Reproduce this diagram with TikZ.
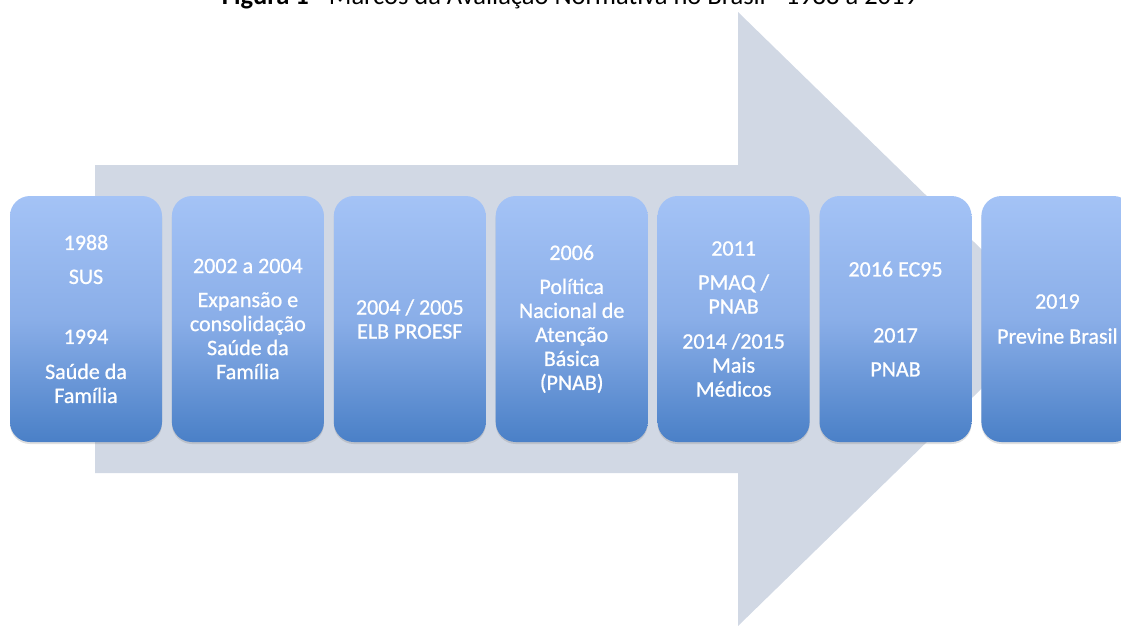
\documentclass[tikz,border=0pt]{standalone}
\usepackage{fontspec}
\setmainfont{Carlito}
\newfontfamily\boxfont{Carlito}[FakeBold=0.8]
\usetikzlibrary{positioning,shadows}

\definecolor{arrowgray}{RGB}{209,216,228}
\definecolor{boxtop}{RGB}{164,195,246}
\definecolor{boxmid}{RGB}{138,174,232}
\definecolor{boxbot}{RGB}{74,128,199}

\begin{document}
\begin{tikzpicture}[x=1pt,y=-1pt,node distance=9.5pt,
  year node/.style={rectangle,rounded corners=20pt,minimum width=152pt,
    minimum height=246pt,inner sep=2pt,align=center,text=white,
    top color=boxtop,bottom color=boxbot,middle color=boxmid,
    drop shadow={opacity=0.25,shadow xshift=0pt,shadow yshift=-2pt},
    font=\boxfont\fontsize{22}{24}\selectfont},
  title node/.style={anchor=base,inner sep=0pt,font=\fontsize{26.5}{30}\selectfont}]

  \clip (0,0) rectangle (1121,625);

  % big background arrow
  \fill[arrowgray] (95,165) -- (738,165) -- (738,12) -- (1053,319)
    -- (738,626) -- (738,473) -- (95,473) -- cycle;

  \node[title node] (title) at (570,4)
    {\textbf{Figura 1} - Marcos da Avaliação Normativa no Brasil - 1988 a 2019};

  \node[year node] (1) at (86,319)
    {1988\\[10pt] SUS\\[36pt] 1994\\[11pt] Saúde da\\ Família};
  \node[year node] (2) [right=of 1]
    {2002 a 2004\\[10pt] Expansão e\\ consolidação\\ Saúde da\\ Família};
  \node[year node] (3) [right=of 2]
    {2004 / 2005\\ ELB PROESF};
  \node[year node] (4) [right=of 3]
    {2006\\[10pt] Política\\ Nacional de\\ Atenção\\ Básica\\ (PNAB)};
  \node[year node] (5) [right=of 4]
    {2011\\[10pt] PMAQ /\\ PNAB\\[11pt] 2014 /2015\\ Mais\\ Médicos};
  \node[year node] (6) [right=of 5]
    {2016 EC95\\[42pt] 2017\\[10pt] PNAB};
  \node[year node] (7) [right=of 6]
    {2019\\[11pt] Previne Brasil};

\end{tikzpicture}
\end{document}
